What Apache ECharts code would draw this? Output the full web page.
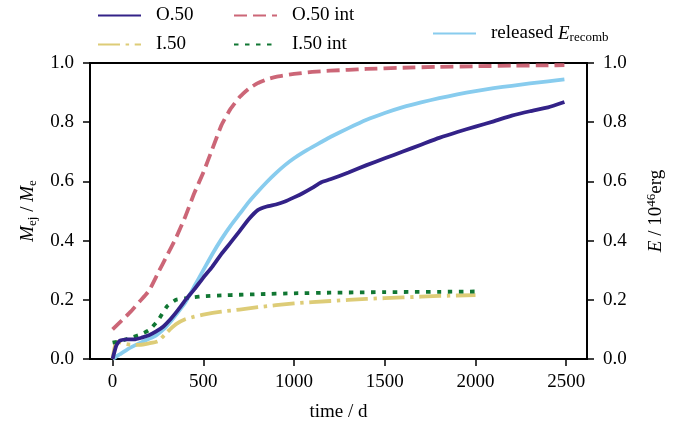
<!DOCTYPE html>
<html>
<head>
<meta charset="utf-8">
<script src="https://cdn.jsdelivr.net/npm/echarts@6/dist/echarts.min.js"></script>
<style>
  html, body { margin: 0; padding: 0; background: #fff; }
  #chart { width: 678px; height: 423px; }
</style>
</head>
<body>
<div id="chart"></div>
<script>
// Time samples (days) and ejected-mass fractions / released recombination energy
const tOuter = [0, 20, 40, 80, 120, 160, 200, 240, 280, 320, 360, 400, 450, 500, 550, 600, 650, 700, 750, 800,
  850, 900, 950, 1000, 1050, 1100, 1150, 1200, 1300, 1400, 1500, 1600, 1700, 1800, 1900, 2000, 2100, 2200, 2300, 2400, 2490];
const o50 = [0.0, 0.045, 0.062, 0.066, 0.066, 0.072, 0.080, 0.093, 0.110, 0.135, 0.165, 0.198, 0.235, 0.275, 0.312, 0.355,
  0.393, 0.432, 0.472, 0.503, 0.515, 0.522, 0.532, 0.546, 0.561, 0.578, 0.597, 0.607, 0.630, 0.655, 0.678, 0.701, 0.724,
  0.747, 0.767, 0.785, 0.803, 0.822, 0.837, 0.850, 0.868];
const releasedE = [0.0, 0.008, 0.016, 0.032, 0.045, 0.057, 0.068, 0.080, 0.100, 0.127, 0.158, 0.190, 0.245, 0.300, 0.355,
  0.405, 0.450, 0.490, 0.530, 0.565, 0.598, 0.628, 0.655, 0.678, 0.698, 0.716, 0.733, 0.750, 0.780, 0.808, 0.831, 0.851,
  0.867, 0.881, 0.894, 0.905, 0.915, 0.923, 0.931, 0.938, 0.945];

const tOuterInt = [0, 50, 100, 150, 200, 250, 300, 350, 400, 450, 500, 550, 600, 650, 700, 750, 800, 850, 900, 1000,
  1100, 1200, 1300, 1400, 1600, 1800, 2000, 2200, 2400, 2490];
const o50int = [0.100, 0.130, 0.160, 0.195, 0.230, 0.290, 0.350, 0.410, 0.480, 0.560, 0.630, 0.710, 0.790, 0.845, 0.885,
  0.913, 0.932, 0.945, 0.953, 0.963, 0.970, 0.974, 0.977, 0.980, 0.984, 0.987, 0.989, 0.991, 0.992, 0.993];

const tInner = [0, 15, 30, 60, 100, 150, 200, 250, 300, 325, 350, 400, 450, 500, 600, 700, 800, 1000, 1200, 1400, 1600, 1800, 2000];
const i50 = [0.0, 0.050, 0.058, 0.052, 0.048, 0.048, 0.053, 0.060, 0.090, 0.105, 0.118, 0.134, 0.143, 0.150, 0.160, 0.167,
  0.175, 0.188, 0.196, 0.203, 0.208, 0.213, 0.216];

const tInnerInt = [0, 50, 100, 150, 200, 250, 300, 350, 400, 450, 500, 600, 700, 800, 1000, 1200, 1500, 1800, 2000];
const i50int = [0.055, 0.062, 0.072, 0.082, 0.097, 0.130, 0.178, 0.200, 0.205, 0.209, 0.212, 0.215, 0.217, 0.219, 0.222,
  0.224, 0.226, 0.227, 0.228];

const xTicks = [0, 500, 1000, 1500, 2000, 2500];

const pairs = (ts, vs) => ts.map((t, i) => [t, vs[i]]);

const FONT = 'Liberation Serif';
const FS = 19;
const AXIS_COLOR = '#000';
const LW = 3.8;

const chart = echarts.init(document.getElementById('chart'), null, { renderer: 'canvas' });

const subRich = {
  n: { fontFamily: FONT, fontSize: FS, color: '#000' },
  i: { fontFamily: FONT, fontSize: FS, fontStyle: 'italic', color: '#000' },
  s: { fontFamily: FONT, fontSize: 13, color: '#000', padding: [9, 0, 0, 0] },
  p: { fontFamily: FONT, fontSize: 13, color: '#000', padding: [0, 0, 9, 0] }
};

const yAxisBase = {
  type: 'value', min: 0, max: 1, interval: 0.2,
  axisLine: { show: true, onZero: false, lineStyle: { color: AXIS_COLOR, width: 1.8 } },
  axisTick: { show: true, inside: false, length: 7, lineStyle: { color: AXIS_COLOR, width: 1.5 } },
  axisLabel: { color: '#000', fontFamily: FONT, fontSize: FS, margin: 16, formatter: v => v.toFixed(1) },
  splitLine: { show: false },
  nameLocation: 'middle', nameRotate: 90
};

const lineSeries = (name, data, color, type, yAxisIndex) => ({
  name, type: 'line', data, yAxisIndex: yAxisIndex || 0,
  showSymbol: false, symbol: 'none', smooth: 0.15,
  lineStyle: { color, width: LW, type, cap: 'butt', join: 'round' },
  itemStyle: { color },
  z: 3
});

const legendBase = {
  orient: 'vertical', itemWidth: 43, itemHeight: 20, itemGap: 10, padding: 0,
  itemStyle: { opacity: 0 },
  textStyle: { fontFamily: FONT, fontSize: FS, color: '#000', padding: [0, 0, 0, 10], rich: subRich },
  selectedMode: false
};

chart.setOption({
  animation: false,
  backgroundColor: '#fff',
  grid: {
    left: 90, right: 91, top: 63, bottom: 64, outerBoundsMode: 'none', containLabel: false,
    show: true, borderColor: AXIS_COLOR, borderWidth: 1.8, backgroundColor: 'transparent'
  },
  legend: [
    Object.assign({}, legendBase, { left: 97, top: 6, data: ['O.50', 'I.50'] }),
    Object.assign({}, legendBase, { left: 233, top: 6, data: ['O.50 int', 'I.50 int'] }),
    Object.assign({}, legendBase, { left: 432, top: 24, data: ['released'],
      formatter: () => '{n|released }{i|E}{s|recomb}' })
  ],
  xAxis: {
    type: 'value', min: -124.5, max: 2614.5,
    name: 'time / d', nameLocation: 'middle', nameGap: 44,
    nameTextStyle: { fontFamily: FONT, fontSize: FS, color: '#000' },
    axisLine: { show: true, onZero: false, lineStyle: { color: AXIS_COLOR, width: 1.8 } },
    axisTick: { show: true, inside: false, length: 7, customValues: xTicks, lineStyle: { color: AXIS_COLOR, width: 1.5 } },
    axisLabel: { color: '#000', fontFamily: FONT, fontSize: FS, margin: 14, customValues: xTicks, formatter: v => String(v) },
    splitLine: { show: false }
  },
  yAxis: [
    Object.assign({}, yAxisBase, {
      position: 'left',
      name: '{i|M}{s|ej}{n| / }{i|M}{s|e}', nameGap: 50,
      nameTextStyle: { rich: subRich }
    }),
    Object.assign({}, yAxisBase, {
      position: 'right',
      name: '{i|E}{n| / 10}{p|46}{n|erg}', nameGap: 58,
      nameTextStyle: { rich: subRich }
    })
  ],
  series: [
    lineSeries('released', pairs(tOuter, releasedE), '#88CCEE', 'solid', 1),
    lineSeries('O.50 int', pairs(tOuterInt, o50int), '#CC6677', [13, 6]),
    lineSeries('I.50', pairs(tInner, i50), '#DDCC77', [22, 5.6, 3.5, 5.6]),
    lineSeries('I.50 int', pairs(tInnerInt, i50int), '#117733', [4.5, 6.5]),
    lineSeries('O.50', pairs(tOuter, o50), '#332288', 'solid')
  ]
});
</script>
</body>
</html>
